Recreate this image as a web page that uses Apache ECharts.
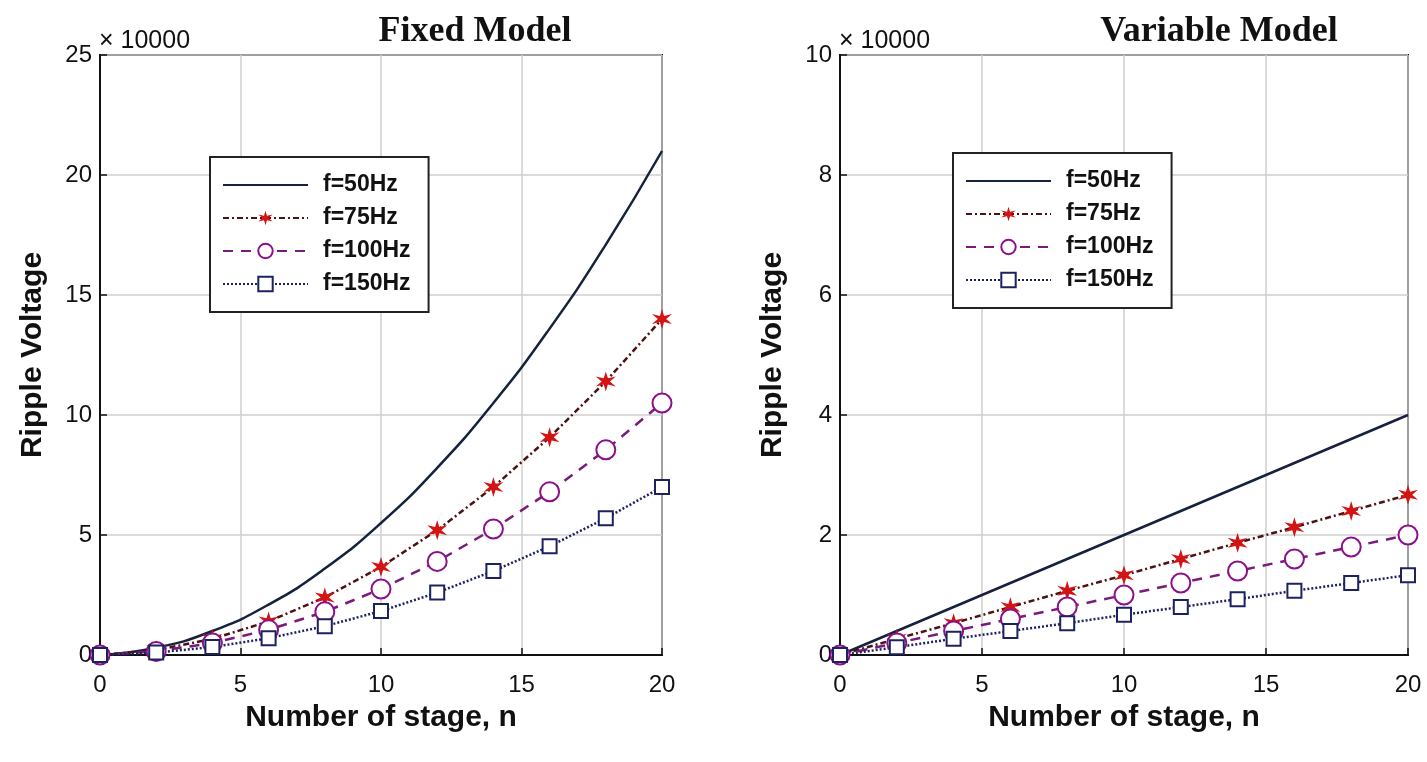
<!DOCTYPE html>
<html>
<head>
<meta charset="utf-8">
<script src="https://cdn.jsdelivr.net/npm/echarts@6/dist/echarts.min.js"></script>
<style>
body{margin:0;background:#fff;}
#main{width:1427px;height:762px;}
</style>
</head>
<body>
<div id="main"></div>
<script>
// stage numbers
var stages = [0, 2, 4, 6, 8, 10, 12, 14, 16, 18, 20];
var names = ['f=50Hz', 'f=75Hz', 'f=100Hz', 'f=150Hz'];

// fixed model (x 10000)
var fixed50 = [0, 0.3, 1.0, 2.1, 3.6, 5.5, 7.8, 10.5, 13.6, 17.1, 21.0];
var fixed75 = [0, 0.2, 0.67, 1.4, 2.4, 3.67, 5.2, 7.0, 9.07, 11.4, 14.0];
var fixed100 = [0, 0.15, 0.5, 1.05, 1.8, 2.75, 3.9, 5.25, 6.8, 8.55, 10.5];
var fixed150 = [0, 0.1, 0.33, 0.7, 1.2, 1.83, 2.6, 3.5, 4.53, 5.7, 7.0];

// variable model (x 10000)
var var50 = [0, 0.4, 0.8, 1.2, 1.6, 2.0, 2.4, 2.8, 3.2, 3.6, 4.0];
var var75 = [0, 0.27, 0.53, 0.8, 1.07, 1.33, 1.6, 1.87, 2.13, 2.4, 2.67];
var var100 = [0, 0.2, 0.4, 0.6, 0.8, 1.0, 1.2, 1.4, 1.6, 1.8, 2.0];
var var150 = [0, 0.13, 0.27, 0.4, 0.53, 0.67, 0.8, 0.93, 1.07, 1.2, 1.33];

var xTicks = [0, 5, 10, 15, 20];
var leftYTicks = [0, 5, 10, 15, 20, 25];
var rightYTicks = [0, 2, 4, 6, 8, 10];

function pairs(ys) {
    return stages.map(function (x, i) { return [x, ys[i]]; });
}

// six pointed star, stands in for matlab's '*' marker
var star = 'path://M0,-10 L1.8,-3.1 L8.66,-5 L3.6,0 L8.66,5 L1.8,3.1 L0,10 L-1.8,3.1 L-8.66,5 L-3.6,0 L-8.66,-5 L-1.8,-3.1 Z';
var sans = 'Liberation Sans, Arial, sans-serif';
var serif = 'Liberation Serif, Times New Roman, serif';

function makeSeries(data, g) {
    return [
        {
            name: names[0], type: 'line', xAxisIndex: g, yAxisIndex: g,
            data: pairs(data[0]), smooth: true, showSymbol: false, symbol: 'none',
            lineStyle: {color: '#16213e', width: 2.5}, itemStyle: {color: '#16213e'}
        },
        {
            name: names[1], type: 'line', xAxisIndex: g, yAxisIndex: g,
            data: pairs(data[1]), symbol: star, symbolSize: 20,
            lineStyle: {color: '#4a1212', width: 2.5, type: [6, 3, 2, 3]},
            itemStyle: {color: '#d41414'}
        },
        {
            name: names[2], type: 'line', xAxisIndex: g, yAxisIndex: g,
            data: pairs(data[2]), symbol: 'emptyCircle', symbolSize: 19,
            lineStyle: {color: '#7a1a7a', width: 2.5, type: [10, 8]},
            itemStyle: {color: '#8b108b', borderWidth: 2.2}
        },
        {
            name: names[3], type: 'line', xAxisIndex: g, yAxisIndex: g,
            data: pairs(data[3]), symbol: 'emptyRect', symbolSize: 14,
            lineStyle: {color: '#1c2260', width: 2.5, type: [2, 2]},
            itemStyle: {color: '#1c2260', borderWidth: 2.2}
        }
    ];
}

function xAxis(g) {
    return {
        type: 'value', gridIndex: g, min: 0, max: 20, interval: 5,
        name: 'Number of stage, n', nameLocation: 'middle', nameGap: 48,
        nameTextStyle: {fontFamily: sans, fontSize: 30, fontWeight: 'bold', color: '#111'},
        axisLine: {lineStyle: {color: '#111', width: 2}},
        axisTick: {inside: true, length: 7, lineStyle: {color: '#111', width: 1.5}},
        axisLabel: {fontFamily: sans, fontSize: 24, color: '#111', margin: 18},
        splitLine: {show: true, lineStyle: {color: '#cfcfcf', width: 1.5}}
    };
}

function yAxis(g, ticks) {
    return {
        type: 'value', gridIndex: g, min: ticks[0], max: ticks[ticks.length - 1],
        interval: ticks[1] - ticks[0],
        name: 'Ripple Voltage', nameLocation: 'middle', nameGap: 52,
        nameTextStyle: {fontFamily: sans, fontSize: 30, fontWeight: 'bold', color: '#111'},
        axisLine: {lineStyle: {color: '#111', width: 2}},
        axisTick: {inside: true, length: 7, lineStyle: {color: '#111', width: 1.5}},
        axisLabel: {fontFamily: sans, fontSize: 24, color: '#111', margin: 8},
        splitLine: {show: true, lineStyle: {color: '#cfcfcf', width: 1.5}}
    };
}

function legend(left, top) {
    return {
        data: [
            {name: names[0], itemStyle: {opacity: 0}},
            names[1], names[2], names[3]
        ],
        orient: 'vertical', left: left, top: top,
        itemWidth: 85, itemHeight: 18, itemGap: 9,
        padding: [16, 18, 16, 12],
        borderColor: '#222', borderWidth: 2, backgroundColor: '#fff',
        textStyle: {fontFamily: sans, fontSize: 23, fontWeight: 'bold', color: '#111',
            lineHeight: 24, padding: [0, 0, 0, 10]},
        selectedMode: false
    };
}

var chart = echarts.init(document.getElementById('main'));
chart.setOption({
    animation: false,
    backgroundColor: '#fff',
    title: [
        {text: 'Fixed Model', left: 470, top: 9, textAlign: 'center',
            textStyle: {fontFamily: serif, fontSize: 36, fontWeight: 'bold', color: '#111'}},
        {text: 'Variable Model', left: 1214, top: 9, textAlign: 'center',
            textStyle: {fontFamily: serif, fontSize: 36, fontWeight: 'bold', color: '#111'}},
        {text: '× 10000', left: 94, top: 24,
            textStyle: {fontFamily: sans, fontSize: 25, fontWeight: 'normal', color: '#111'}},
        {text: '× 10000', left: 834, top: 24,
            textStyle: {fontFamily: sans, fontSize: 25, fontWeight: 'normal', color: '#111'}}
    ],
    legend: [legend(210, 157), legend(953, 153)],
    grid: [
        {left: 100, right: 765, top: 55, bottom: 107, show: true, borderColor: '#111', borderWidth: 2},
        {left: 840, right: 19, top: 55, bottom: 107, show: true, borderColor: '#111', borderWidth: 2}
    ],
    xAxis: [xAxis(0), xAxis(1)],
    yAxis: [yAxis(0, leftYTicks), yAxis(1, rightYTicks)],
    series: makeSeries([fixed50, fixed75, fixed100, fixed150], 0)
        .concat(makeSeries([var50, var75, var100, var150], 1))
});
</script>
</body>
</html>
